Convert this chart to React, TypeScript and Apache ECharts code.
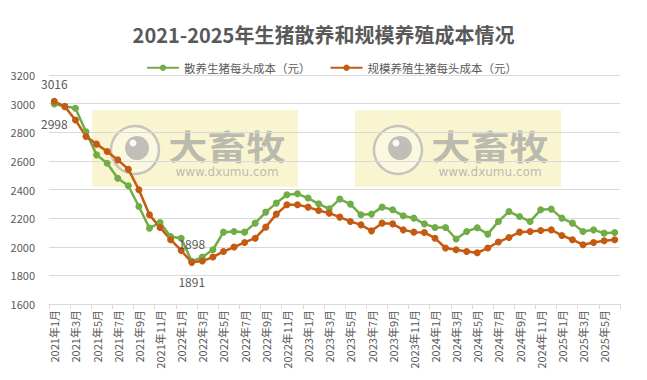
import React, { useEffect, useRef } from "react";
import * as echarts from "echarts";

const years = [2021, 2022, 2023, 2024, 2025];
const categories: string[] = [];
for (const y of years) {
  for (let m = 1; m <= 12; m++) {
    if (y === 2025 && m > 6) break;
    categories.push(`${y}年${m}月`);
  }
}

const retailCost = [
  2998, 2982, 2968, 2804, 2642, 2584, 2479, 2426, 2281, 2130,
  2169, 2072, 2060, 1898, 1928, 1979, 2102, 2107, 2102, 2165,
  2242, 2305, 2363, 2370, 2340, 2300, 2265, 2333, 2298, 2223,
  2228, 2277, 2258, 2216, 2200, 2160, 2135, 2135, 2054, 2107,
  2133, 2088, 2177, 2246, 2211, 2177, 2258, 2263, 2200, 2165,
  2107, 2118, 2095, 2100,
];

const scaleCost = [
  3016, 2979, 2886, 2770, 2717, 2665, 2607, 2542, 2398, 2223,
  2135, 2049, 1974, 1891, 1900, 1928, 1967, 1998, 2030, 2060,
  2137, 2228, 2293, 2293, 2277, 2253, 2235, 2207, 2177, 2153,
  2111, 2165, 2160, 2118, 2102, 2100, 2060, 1991, 1979, 1967,
  1958, 1991, 2033, 2065, 2102, 2107, 2114, 2118, 2079, 2049,
  2014, 2030, 2042, 2049,
];

const seriesNames = ["散养生猪每头成本（元）", "规模养殖生猪每头成本（元）"];
const FONT = "'Noto Sans CJK SC', 'Noto Sans', sans-serif";
const TEXT = "#595959";

function watermark(x0: number) {
  return {
    type: "group",
    x: x0,
    y: 110,
    z: 100,
    silent: true,
    children: [
      { type: "rect", shape: { x: 0, y: 0, width: 206, height: 77 }, style: { fill: "rgba(242,232,150,0.45)" } },
      { type: "circle", shape: { cx: 43, cy: 40, r: 24 }, style: { fill: "rgba(255,255,255,0.35)", stroke: "rgba(175,175,175,0.7)", lineWidth: 2.5 } },
      { type: "circle", shape: { cx: 45, cy: 38, r: 12 }, style: { fill: "rgba(165,165,165,0.7)" } },
      { type: "circle", shape: { cx: 41, cy: 33, r: 3.5 }, style: { fill: "rgba(255,255,255,0.9)" } },
      { type: "text", x: 135, y: 36, scaleX: 1.15, style: { text: "大畜牧", fill: "rgba(160,160,160,0.7)", font: `bold 34px ${FONT}`, align: "center", verticalAlign: "middle" } },
      { type: "text", x: 135, y: 62, style: { text: "www.dxumu.com", fill: "rgba(160,160,160,0.7)", font: `12px Verdana, 'DejaVu Sans', sans-serif`, align: "center", verticalAlign: "middle" } },
    ],
  };
}

export default function App() {
  const ref = useRef<HTMLDivElement>(null);
  useEffect(() => {
    if (!ref.current) return;
    const chart = echarts.init(ref.current, undefined, { renderer: "svg" });
    const labelData = (vals: number[], top: number[], bottom: number[]) =>
      vals.map((v, i) =>
        top.includes(i) || bottom.includes(i)
          ? {
              value: v,
              label: {
                show: true,
                position: top.includes(i) ? "top" : "bottom",
                distance: top.includes(i) ? 8 : 10,
                color: TEXT,
                fontSize: 12,
                fontFamily: FONT,
              },
            }
          : v
      );
    chart.setOption({
      animation: false,
      backgroundColor: "#fff",
      textStyle: { fontFamily: FONT },
      title: {
        text: "2021-2025年生猪散养和规模养殖成本情况",
        left: "center",
        top: 19,
        textStyle: { fontSize: 20, fontWeight: "bold", color: TEXT, fontFamily: FONT },
      },
      legend: {
        top: 57,
        left: 141,
        itemWidth: 32,
        itemHeight: 8,
        itemGap: 19,
        textStyle: { color: TEXT, fontSize: 11.5, fontFamily: FONT },
        data: seriesNames,
      },
      grid: { left: 49, right: 27, top: 75, bottom: 76, containLabel: false },
      xAxis: {
        type: "category",
        data: categories,
        boundaryGap: true,
        axisLine: { lineStyle: { color: "#d9d9d9" } },
        axisTick: { show: true, interval: 1, lineStyle: { color: "#d9d9d9" } },
        axisLabel: { interval: 1, rotate: 90, color: TEXT, fontSize: 11, fontFamily: FONT, margin: 6 },
      },
      yAxis: {
        type: "value",
        min: 1600,
        max: 3200,
        interval: 200,
        axisLine: { show: false },
        axisTick: { show: false },
        axisLabel: { color: TEXT, fontSize: 11, fontFamily: FONT, margin: 14, formatter: (v: number) => String(v) },
        splitLine: { lineStyle: { color: "#d9d9d9" } },
      },
      graphic: [watermark(92), watermark(355)],
      series: [
        {
          name: seriesNames[0],
          type: "line",
          data: labelData(retailCost, [13], [0]),
          color: "#70AD47",
          symbol: "circle",
          symbolSize: 7,
          lineStyle: { width: 2.5, color: "#70AD47" },
          itemStyle: { color: "#70AD47" },
        },
        {
          name: seriesNames[1],
          type: "line",
          data: labelData(scaleCost, [0], [13]),
          color: "#C55A11",
          symbol: "circle",
          symbolSize: 7,
          lineStyle: { width: 2.5, color: "#C55A11" },
          itemStyle: { color: "#C55A11" },
        },
      ],
    });
    return () => chart.dispose();
  }, []);
  return (
    <div
      ref={ref}
      style={{ position: "fixed", left: 0, top: 0, width: 647, height: 380, background: "#fff" }}
    />
  );
}
